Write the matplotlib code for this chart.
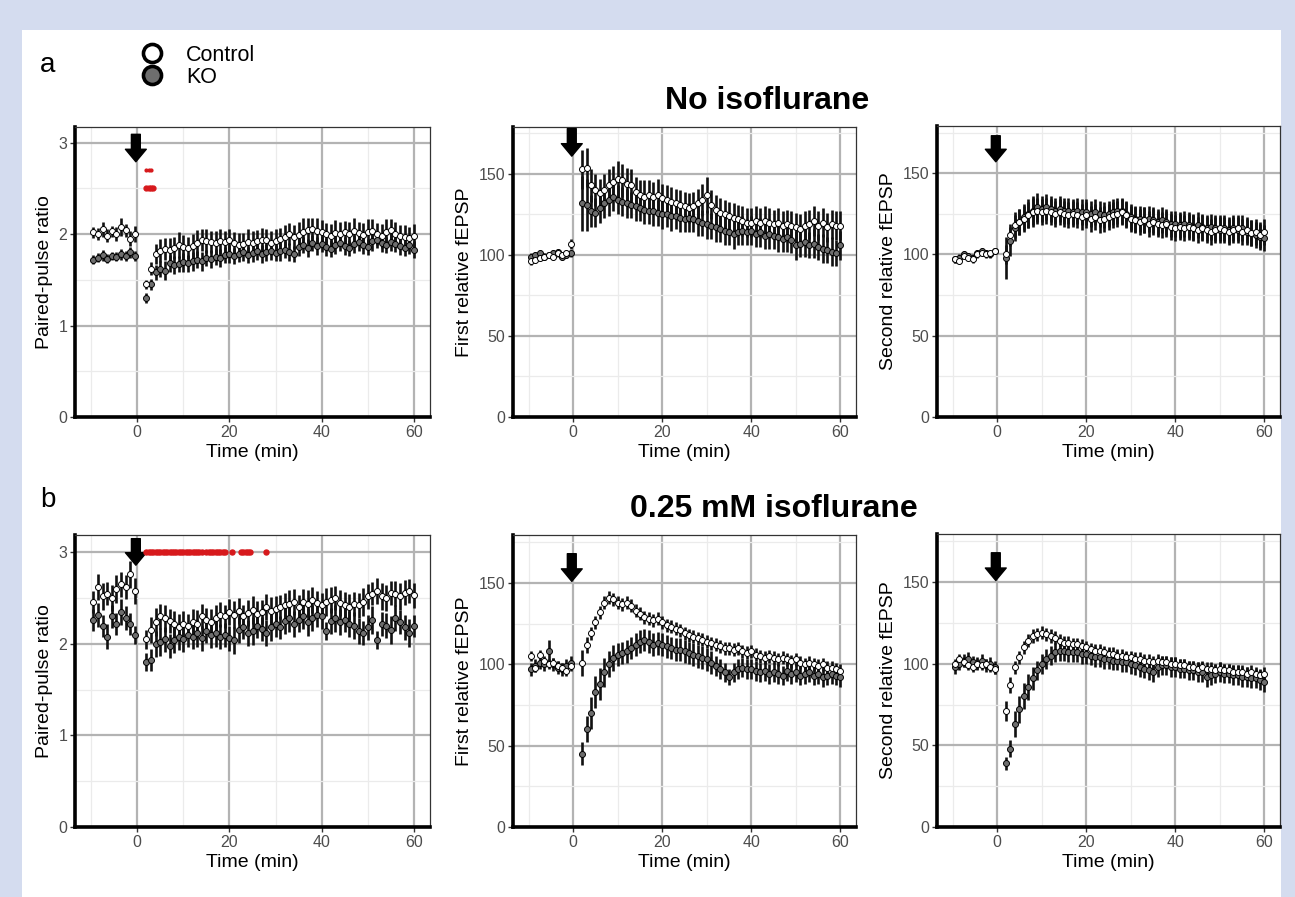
import matplotlib.pyplot as plt
from matplotlib.lines import Line2D
from matplotlib.patches import Rectangle
import numpy as np

plt.rcParams['font.family'] = ['Liberation Sans', 'DejaVu Sans']

# sampling times (min): baseline before the stimulus, then one value per minute from 2 to 60
time = np.concatenate([np.arange(-9.5, 0, 1.0), np.arange(2, 61, 1.0)])

# ---------- a: no isoflurane ----------
ppr_a_ctrl = [2.02, 2.00, 2.05, 1.98, 2.03, 2.00, 2.08, 2.04, 1.95, 2.00,
              1.45, 1.62, 1.78, 1.82, 1.84, 1.83, 1.85, 1.88, 1.86, 1.85,
              1.87, 1.90, 1.93, 1.92, 1.91, 1.90, 1.92, 1.91, 1.93, 1.90,
              1.88, 1.89, 1.91, 1.90, 1.92, 1.94, 1.93, 1.90, 1.92, 1.95,
              1.97, 2.00, 1.97, 1.99, 2.02, 2.04, 2.05, 2.03, 2.02, 2.00,
              1.98, 2.01, 2.00, 2.02, 2.00, 2.03, 2.01, 1.99, 2.02, 2.03,
              2.00, 1.98, 2.02, 2.04, 2.00, 1.98, 1.97, 1.96, 1.98]
ppr_a_ctrl_se = [0.06, 0.07, 0.08, 0.07, 0.06, 0.08, 0.10, 0.07, 0.08, 0.09,
                 0.05, 0.07, 0.11, 0.13, 0.12, 0.13, 0.12, 0.14, 0.13, 0.12,
                 0.13, 0.14, 0.12, 0.13, 0.12, 0.13, 0.14, 0.12, 0.13, 0.12,
                 0.13, 0.12, 0.14, 0.13, 0.12, 0.13, 0.12, 0.13, 0.14, 0.12,
                 0.13, 0.12, 0.13, 0.14, 0.15, 0.14, 0.13, 0.14, 0.13, 0.12,
                 0.13, 0.14, 0.13, 0.12, 0.13, 0.14, 0.12, 0.13, 0.14, 0.13,
                 0.12, 0.13, 0.14, 0.12, 0.13, 0.12, 0.13, 0.12, 0.13]
ppr_a_ko = [1.72, 1.74, 1.77, 1.73, 1.76, 1.75, 1.78, 1.76, 1.80, 1.76,
            1.30, 1.45, 1.58, 1.62, 1.60, 1.68, 1.66, 1.67, 1.69, 1.68,
            1.70, 1.72, 1.70, 1.74, 1.73, 1.75, 1.74, 1.77, 1.78, 1.76,
            1.78, 1.80, 1.77, 1.79, 1.81, 1.78, 1.80, 1.82, 1.79, 1.81,
            1.83, 1.80, 1.78, 1.86, 1.88, 1.85, 1.90, 1.87, 1.89, 1.86,
            1.84, 1.88, 1.90, 1.87, 1.85, 1.89, 1.91, 1.88, 1.86, 1.92,
            1.94, 1.90, 1.88, 1.91, 1.89, 1.87, 1.85, 1.88, 1.83]
ppr_a_ko_se = [0.05, 0.05, 0.06, 0.05, 0.04, 0.05, 0.06, 0.05, 0.06, 0.05,
               0.05, 0.06, 0.08, 0.09, 0.10, 0.09, 0.10, 0.09, 0.10, 0.09,
               0.10, 0.09, 0.10, 0.09, 0.10, 0.09, 0.10, 0.09, 0.10, 0.09,
               0.09, 0.10, 0.09, 0.10, 0.09, 0.10, 0.09, 0.10, 0.09, 0.10,
               0.09, 0.10, 0.09, 0.10, 0.09, 0.10, 0.09, 0.10, 0.09, 0.10,
               0.09, 0.10, 0.09, 0.10, 0.09, 0.10, 0.09, 0.10, 0.09, 0.10,
               0.09, 0.10, 0.09, 0.10, 0.09, 0.10, 0.09, 0.10, 0.09]

first_a_ctrl = [96, 97, 98, 99, 100, 99, 101, 100, 101, 107,
                153, 154, 143, 140, 138, 140, 143, 145, 147, 146,
                144, 143, 139, 137, 136, 137, 136, 137, 135, 134,
                133, 132, 131, 130, 129, 130, 132, 134, 137, 131,
                128, 126, 125, 124, 123, 122, 121, 120, 120, 121,
                120, 121, 120, 119, 120, 118, 119, 118, 117, 116,
                118, 119, 121, 118, 120, 117, 119, 118, 118]
first_a_ctrl_se = [2, 2, 2, 2, 2, 2, 2, 2, 2, 3,
                   12, 12, 10, 10, 9, 10, 10, 10, 11, 10,
                   10, 10, 9, 9, 10, 9, 9, 10, 9, 9,
                   9, 9, 9, 9, 9, 9, 9, 10, 11, 9,
                   9, 9, 9, 9, 9, 9, 9, 9, 9, 9,
                   9, 9, 9, 9, 9, 9, 9, 9, 9, 9,
                   9, 9, 9, 9, 9, 9, 9, 9, 9]
first_a_ko = [99, 100, 101, 99, 100, 101, 102, 99, 100, 101,
              132, 131, 127, 126, 129, 132, 134, 136, 134, 133,
              132, 131, 130, 129, 128, 127, 127, 126, 125, 125,
              124, 124, 123, 122, 123, 122, 121, 120, 119, 118,
              117, 116, 115, 114, 113, 114, 115, 114, 115, 113,
              114, 112, 113, 112, 111, 110, 111, 109, 106, 107,
              108, 106, 107, 105, 104, 103, 102, 101, 106]
first_a_ko_se = [2, 2, 2, 2, 2, 2, 2, 2, 2, 2,
                 17, 16, 10, 9, 9, 9, 10, 9, 9, 9,
                 9, 8, 9, 8, 9, 8, 9, 8, 9, 8,
                 9, 8, 9, 8, 9, 8, 9, 8, 9, 8,
                 9, 8, 9, 8, 9, 8, 9, 8, 9, 8,
                 9, 8, 9, 8, 9, 8, 9, 8, 9, 8,
                 9, 8, 9, 8, 9, 8, 9, 8, 9]

second_a_ctrl = [97, 96, 99, 98, 97, 100, 101, 100, 101, 102,
                 100, 112, 118, 120, 122, 124, 126, 127, 126, 127,
                 126, 125, 126, 125, 124, 125, 124, 123, 124, 122,
                 123, 121, 122, 123, 124, 125, 126, 124, 122, 121,
                 120, 121, 119, 120, 119, 118, 119, 117, 116, 117,
                 116, 117, 116, 115, 116, 115, 114, 115, 116, 115,
                 114, 115, 116, 114, 115, 113, 114, 112, 114]
second_a_ctrl_se = [2, 2, 2, 2, 2, 2, 2, 2, 2, 2,
                    6, 7, 8, 8, 8, 8, 9, 8, 8, 8,
                    8, 8, 8, 8, 8, 8, 8, 8, 8, 8,
                    8, 8, 8, 8, 8, 8, 8, 8, 8, 8,
                    8, 8, 8, 8, 8, 8, 8, 8, 8, 8,
                    8, 8, 8, 8, 8, 8, 8, 8, 8, 8,
                    8, 8, 8, 8, 8, 8, 8, 8, 8]
second_a_ko = [97, 98, 100, 99, 98, 101, 102, 101, 100, 102,
               98, 108, 116, 120, 123, 125, 127, 129, 128, 129,
               128, 127, 128, 127, 127, 126, 127, 126, 126, 125,
               126, 125, 124, 125, 126, 127, 127, 125, 123, 122,
               122, 121, 122, 121, 120, 121, 120, 119, 119, 118,
               119, 118, 117, 118, 117, 116, 117, 116, 115, 116,
               115, 116, 115, 116, 114, 113, 112, 111, 110]
second_a_ko_se = [2, 2, 2, 2, 2, 2, 2, 2, 2, 2,
                  13, 9, 8, 8, 8, 9, 9, 9, 8, 8,
                  8, 8, 8, 8, 8, 8, 8, 8, 8, 8,
                  8, 8, 8, 8, 8, 8, 8, 8, 8, 8,
                  8, 8, 8, 8, 8, 8, 8, 8, 8, 8,
                  8, 8, 8, 8, 8, 8, 8, 8, 8, 8,
                  8, 8, 8, 8, 8, 8, 8, 8, 8]

# ---------- b: 0.25 mM isoflurane ----------
ppr_b_ctrl = [2.46, 2.62, 2.52, 2.55, 2.50, 2.60, 2.65, 2.62, 2.76, 2.58,
              2.05, 2.15, 2.24, 2.30, 2.28, 2.25, 2.22, 2.18, 2.22, 2.20,
              2.24, 2.22, 2.30, 2.26, 2.24, 2.28, 2.32, 2.30, 2.35, 2.32,
              2.36, 2.30, 2.34, 2.37, 2.33, 2.35, 2.40, 2.36, 2.38, 2.40,
              2.42, 2.44, 2.46, 2.40, 2.46, 2.44, 2.48, 2.45, 2.42, 2.46,
              2.48, 2.50, 2.45, 2.42, 2.40, 2.44, 2.42, 2.46, 2.52, 2.55,
              2.58, 2.52, 2.50, 2.56, 2.55, 2.52, 2.56, 2.58, 2.53]
ppr_b_ctrl_se = [0.12, 0.14, 0.15, 0.13, 0.14, 0.15, 0.14, 0.13, 0.15, 0.14,
                 0.10, 0.14, 0.15, 0.14, 0.15, 0.13, 0.14, 0.15, 0.14, 0.13,
                 0.14, 0.15, 0.14, 0.13, 0.14, 0.15, 0.14, 0.13, 0.14, 0.15,
                 0.14, 0.13, 0.14, 0.15, 0.14, 0.13, 0.14, 0.15, 0.14, 0.13,
                 0.14, 0.15, 0.14, 0.13, 0.14, 0.15, 0.14, 0.13, 0.14, 0.15,
                 0.14, 0.13, 0.14, 0.15, 0.14, 0.13, 0.14, 0.15, 0.14, 0.13,
                 0.14, 0.15, 0.14, 0.13, 0.14, 0.15, 0.14, 0.13, 0.14]
ppr_b_ko = [2.26, 2.32, 2.20, 2.08, 2.30, 2.22, 2.35, 2.28, 2.22, 2.10,
            1.80, 1.82, 2.00, 2.02, 2.05, 1.98, 2.04, 2.08, 2.05, 2.10,
            2.08, 2.12, 2.06, 2.14, 2.10, 2.12, 2.08, 2.10, 2.06, 2.04,
            2.15, 2.18, 2.12, 2.14, 2.20, 2.16, 2.12, 2.18, 2.22, 2.18,
            2.25, 2.28, 2.22, 2.26, 2.30, 2.24, 2.28, 2.32, 2.30, 2.14,
            2.25, 2.28, 2.24, 2.26, 2.22, 2.20, 2.14, 2.12, 2.18, 2.26,
            2.04, 2.22, 2.20, 2.15, 2.28, 2.24, 2.18, 2.12, 2.20]
ppr_b_ko_se = [0.12, 0.13, 0.12, 0.14, 0.13, 0.12, 0.14, 0.13, 0.12, 0.10,
               0.10, 0.12, 0.14, 0.15, 0.14, 0.13, 0.14, 0.15, 0.14, 0.13,
               0.14, 0.15, 0.14, 0.13, 0.14, 0.15, 0.14, 0.13, 0.14, 0.15,
               0.14, 0.13, 0.14, 0.15, 0.14, 0.13, 0.14, 0.15, 0.14, 0.13,
               0.14, 0.15, 0.14, 0.13, 0.14, 0.15, 0.14, 0.13, 0.14, 0.10,
               0.14, 0.15, 0.14, 0.13, 0.14, 0.15, 0.14, 0.13, 0.14, 0.15,
               0.10, 0.13, 0.14, 0.15, 0.14, 0.13, 0.14, 0.15, 0.12]

first_b_ctrl = [105, 98, 106, 102, 100, 101, 99, 98, 96, 99,
                101, 112, 119, 126, 132, 138, 141, 140, 138, 137,
                138, 136, 133, 131, 129, 128, 127, 128, 126, 124,
                123, 122, 121, 119, 118, 117, 116, 115, 114, 113,
                112, 111, 110, 110, 109, 110, 108, 107, 108, 106,
                105, 104, 105, 104, 103, 104, 103, 102, 103, 101,
                100, 101, 100, 99, 100, 98, 98, 97, 96]
first_b_ctrl_se = [3, 3, 3, 3, 3, 3, 3, 3, 3, 3,
                   8, 5, 4, 4, 4, 4, 4, 4, 4, 4,
                   4, 4, 4, 4, 4, 4, 4, 4, 4, 4,
                   4, 4, 4, 4, 4, 4, 4, 4, 4, 4,
                   4, 4, 4, 4, 4, 4, 4, 4, 4, 4,
                   4, 4, 4, 4, 4, 4, 4, 4, 4, 4,
                   4, 4, 4, 4, 4, 4, 4, 4, 4]
first_b_ko = [97, 99, 101, 100, 108, 100, 98, 97, 99, 101,
              45, 60, 70, 83, 88, 95, 100, 104, 106, 107,
              108, 110, 112, 114, 115, 114, 112, 113, 112, 111,
              110, 109, 109, 108, 107, 106, 105, 104, 103, 101,
              99, 97, 95, 92, 95, 97, 98, 97, 97, 96,
              95, 96, 94, 95, 94, 93, 96, 94, 95, 93,
              94, 95, 93, 94, 92, 93, 94, 93, 92]
first_b_ko_se = [4, 4, 4, 4, 7, 4, 4, 4, 4, 4,
                 7, 8, 10, 10, 10, 9, 8, 8, 7, 7,
                 7, 7, 7, 7, 7, 7, 7, 7, 7, 7,
                 7, 7, 7, 7, 7, 7, 7, 7, 7, 7,
                 6, 6, 6, 5, 6, 6, 6, 6, 6, 6,
                 6, 6, 6, 6, 6, 6, 6, 6, 6, 6,
                 6, 6, 6, 6, 6, 6, 6, 6, 6]

second_b_ctrl = [100, 103, 101, 99, 98, 100, 99, 100, 98, 97,
                 71, 87, 98, 104, 110, 114, 117, 118, 119, 118,
                 117, 116, 114, 113, 113, 112, 112, 111, 110, 109,
                 108, 108, 107, 106, 106, 105, 105, 104, 104, 103,
                 103, 102, 102, 101, 102, 101, 101, 100, 100, 99,
                 99, 98, 98, 97, 98, 97, 97, 96, 97, 96,
                 96, 95, 95, 95, 94, 95, 94, 93, 94]
second_b_ctrl_se = [3, 3, 3, 3, 3, 3, 3, 3, 3, 3,
                    6, 5, 4, 4, 4, 4, 4, 4, 4, 4,
                    4, 4, 4, 4, 4, 4, 4, 4, 4, 4,
                    4, 4, 4, 4, 4, 4, 4, 4, 4, 4,
                    4, 4, 4, 4, 4, 4, 4, 4, 4, 4,
                    4, 4, 4, 4, 4, 4, 4, 4, 4, 4,
                    4, 4, 4, 4, 4, 4, 4, 4, 4]
second_b_ko = [98, 100, 102, 103, 101, 100, 102, 99, 100, 98,
               39, 48, 63, 72, 80, 86, 91, 96, 100, 103,
               105, 107, 108, 108, 107, 107, 107, 106, 106, 105,
               104, 104, 103, 103, 102, 102, 101, 101, 100, 99,
               98, 97, 96, 95, 98, 99, 99, 98, 98, 97,
               97, 96, 96, 95, 95, 92, 93, 94, 95, 94,
               94, 93, 93, 92, 92, 91, 91, 90, 89]
second_b_ko_se = [4, 4, 4, 4, 4, 4, 4, 4, 4, 4,
                  4, 5, 8, 8, 8, 8, 7, 6, 6, 6,
                  6, 6, 6, 6, 6, 6, 6, 6, 6, 6,
                  6, 6, 6, 6, 6, 6, 6, 6, 6, 6,
                  6, 6, 6, 6, 6, 6, 6, 6, 6, 6,
                  6, 6, 6, 6, 6, 6, 6, 6, 6, 6,
                  6, 6, 6, 6, 6, 6, 6, 6, 6]

# significant time points (red marks)
sig_a_high = [2, 2.5, 3]
sig_a_low = [2, 2.5, 3, 3.5]
sig_b = [2, 2.5, 3, 3.5, 4, 4.5, 5, 5.5, 6, 6.5, 7, 7.5, 8, 8.5, 9, 9.5,
         10, 10.5, 11, 11.5, 12, 12.5, 13, 13.5, 14, 15, 15.5, 16, 16.5,
         17, 17.5, 18, 18.5, 19, 20.5, 22.5, 23, 23.5, 24, 24.5, 28]

W, H = 1295, 897
fig = plt.figure(figsize=(W / 100, H / 100), dpi=100, facecolor='#d4dcef')
fig.add_artist(Rectangle((22 / W, 0), (1281 - 22) / W, 1 - 30 / H,
                         transform=fig.transFigure, facecolor='white',
                         edgecolor='none', zorder=-10))


def add_ax(x0, x1, ytop, ybot):
    return fig.add_axes([x0 / W, 1 - ybot / H, (x1 - x0) / W, (ybot - ytop) / H])


def panel(ax, ctrl, ctrl_se, ko, ko_se, top, major, minor, ylabel, arrow):
    ax.errorbar(time, ko, yerr=ko_se, fmt='none', ecolor='#111111',
                elinewidth=1.9, capsize=0, zorder=3)
    ax.errorbar(time, ctrl, yerr=ctrl_se, fmt='none', ecolor='#111111',
                elinewidth=1.9, capsize=0, zorder=3)
    ax.plot(time, ko, 'o', ms=4.3, mfc='#6e6e6e', mec='black', mew=0.7, zorder=4)
    ax.plot(time, ctrl, 'o', ms=4.3, mfc='white', mec='black', mew=0.7, zorder=5)

    ax.set_xlim(-13.5, 63.5)
    ax.set_ylim(0, top)
    ax.set_xticks([0, 20, 40, 60])
    ax.set_xticks([-10, 10, 30, 50], minor=True)
    ax.set_yticks(major)
    ax.set_yticks(minor, minor=True)
    ax.grid(which='major', color='#b3b3b3', lw=1.6)
    ax.grid(which='minor', color='#ebebeb', lw=0.9)
    ax.set_axisbelow(True)
    ax.tick_params(which='major', length=3.5, width=1, color='#333333',
                   labelcolor='#4d4d4d', labelsize=11.5, pad=2)
    ax.tick_params(which='minor', length=0)
    for s in ['left', 'bottom']:
        ax.spines[s].set_linewidth(2.6)
        ax.spines[s].set_color('black')
    for s in ['top', 'right']:
        ax.spines[s].set_linewidth(0.9)
        ax.spines[s].set_color('#333333')
    ax.set_xlabel('Time (min)', fontsize=14, labelpad=3)
    ax.set_ylabel(ylabel, fontsize=14, labelpad=4)
    ax.annotate('', xy=(-0.3, arrow[1]), xytext=(-0.3, arrow[0]),
                arrowprops=dict(arrowstyle='simple,head_width=0.75,head_length=0.45,tail_width=0.32',
                                color='black', shrinkA=0, shrinkB=0, mutation_scale=20),
                zorder=6)


red = '#d7191c'
ppr_major, ppr_minor = [0, 1, 2, 3], [0.5, 1.5, 2.5]
f_major, f_minor = [0, 50, 100, 150], [25, 75, 125, 175]

ax = add_ax(75, 430, 127, 417)
panel(ax, ppr_a_ctrl, ppr_a_ctrl_se, ppr_a_ko, ppr_a_ko_se, 3.17,
      ppr_major, ppr_minor, 'Paired-pulse ratio', (3.09, 2.79))
ax.plot(sig_a_high, [2.7] * len(sig_a_high), 'o', ms=2, color=red, zorder=6)
ax.plot(sig_a_low, [2.5] * len(sig_a_low), 'o', ms=3.5, color=red, zorder=6)

ax = add_ax(513, 856, 127, 417)
panel(ax, first_a_ctrl, first_a_ctrl_se, first_a_ko, first_a_ko_se, 179,
      f_major, f_minor, 'First relative fEPSP', (178, 161))

ax = add_ax(937, 1280, 126, 417)
panel(ax, second_a_ctrl, second_a_ctrl_se, second_a_ko, second_a_ko_se, 179,
      f_major, f_minor, 'Second relative fEPSP', (173, 157))

ax = add_ax(75, 430, 535, 827)
panel(ax, ppr_b_ctrl, ppr_b_ctrl_se, ppr_b_ko, ppr_b_ko_se, 3.19,
      ppr_major, ppr_minor, 'Paired-pulse ratio', (3.15, 2.86))
ax.plot(sig_b, [3.0] * len(sig_b), 'o', ms=3.6, color=red, zorder=6)

ax = add_ax(513, 856, 535, 827)
panel(ax, first_b_ctrl, first_b_ctrl_se, first_b_ko, first_b_ko_se, 179.5,
      f_major, f_minor, 'First relative fEPSP', (168, 151))

ax = add_ax(937, 1280, 534, 827)
panel(ax, second_b_ctrl, second_b_ctrl_se, second_b_ko, second_b_ko_se, 179.5,
      f_major, f_minor, 'Second relative fEPSP', (168, 151))

fig.text(767 / W, 1 - 101 / H, 'No isoflurane', fontsize=23, fontweight='bold',
         ha='center', va='center')
fig.text(774 / W, 1 - 509 / H, '0.25 mM isoflurane', fontsize=23, fontweight='bold',
         ha='center', va='center')
fig.text(48 / W, 1 - 65 / H, 'a', fontsize=20, ha='center', va='center')
fig.text(48 / W, 1 - 500 / H, 'b', fontsize=20, ha='center', va='center')

handles = [Line2D([], [], ls='', marker='o', ms=13, mfc='white', mec='black', mew=2.6),
           Line2D([], [], ls='', marker='o', ms=13, mfc='#6e6e6e', mec='black', mew=2.6)]
fig.legend(handles, ['Control', 'KO'], loc='upper left', bbox_to_anchor=(128 / W, 1 - 34 / H),
           frameon=False, fontsize=15.5, handlelength=1.2, handletextpad=1.0,
           labelspacing=0.05, borderpad=0)

fig.savefig('out.png', dpi=100, facecolor=fig.get_facecolor())
